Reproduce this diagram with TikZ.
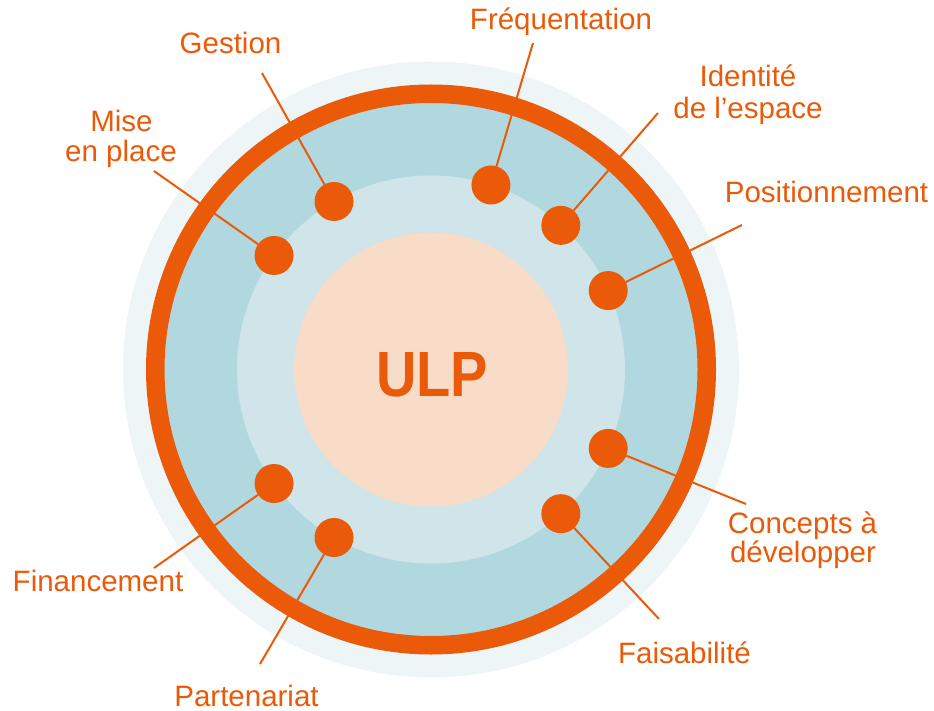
\documentclass[tikz,border=0pt]{standalone}
\usepackage{fontspec}
\setmainfont{Liberation Sans}
\definecolor{ulporange}{HTML}{EA5A08}
\definecolor{ringblue}{HTML}{B1D8DF}
\definecolor{innerblue}{HTML}{CFE5EA}
\definecolor{haloblue}{HTML}{EDF5F7}
\definecolor{corepeach}{HTML}{F8DCC8}
\begin{document}
\begin{tikzpicture}[x=1pt,y=-1pt,
  lbl/.style={text=ulporange, font=\fontsize{29.5}{35}\selectfont, anchor=base, inner sep=0pt},
  spoke/.style={draw=ulporange, line width=2pt},
  dot/.style={circle, fill=ulporange, minimum size=39pt, inner sep=0pt, outer sep=0pt}]
\useasboundingbox (0,0) rectangle (934,711);
\coordinate (c) at (431,369.5);

% concentric discs
\fill[haloblue] (c) circle (308pt);
\fill[ringblue] (c) circle (267pt);
\fill[innerblue] (c) circle (194pt);
\fill[corepeach] (c) circle (137pt);
\draw[ulporange, line width=18.5pt] (c) circle (275.75pt);

% core label
\node[text=ulporange, font=\bfseries\fontsize{64}{64}\selectfont, anchor=base, inner sep=0pt]
  (ulp) at (432,396.7) {\scalebox{0.875}[1]{ULP}};

% dots on the inner ring
\node[dot] (dfreq) at ([shift={(72:194pt)}]c) {};
\node[dot] (dident) at ([shift={(48:194pt)}]c) {};
\node[dot] (dpos) at ([shift={(24:194pt)}]c) {};
\node[dot] (dconc) at ([shift={(-24:194pt)}]c) {};
\node[dot] (dfais) at ([shift={(-48:194pt)}]c) {};
\node[dot] (dpart) at ([shift={(-120:194pt)}]c) {};
\node[dot] (dfin) at ([shift={(-144:194pt)}]c) {};
\node[dot] (dmise) at ([shift={(144:194pt)}]c) {};
\node[dot] (dges) at ([shift={(120:194pt)}]c) {};

% outer ends of the spokes
\coordinate (efreq) at (533,43);
\coordinate (eident) at (658,113);
\coordinate (epos) at (742,225);
\coordinate (econc) at (746,504);
\coordinate (efais) at (659,619);
\coordinate (epart) at (260,664);
\coordinate (efin) at (154,568);
\coordinate (emise) at (154,171);
\coordinate (eges) at (262,73);

% spokes from each dot outwards
\foreach \d/\e in {dfreq/efreq, dident/eident, dpos/epos, dconc/econc, dfais/efais,
                   dpart/epart, dfin/efin, dmise/emise, dges/eges}
  \draw[spoke] (\d) -- (\e);

% labels
\node[lbl] (tfreq) at (561,30) {Fréquentation};
\node[lbl] (tident1) at (748,87) {Identité};
\node[lbl] (tident2) at (748,119) {de l’espace};
\node[lbl] (tpos) at (826.5,203) {Positionnement};
\node[lbl] (tconc1) at (802.5,533) {Concepts à};
\node[lbl] (tconc2) at (803,562) {développer};
\node[lbl] (tfais) at (684.5,663) {Faisabilité};
\node[lbl] (tpart) at (246.5,706) {Partenariat};
\node[lbl] (tfin) at (98,591) {Financement};
\node[lbl] (tmise1) at (121.5,132) {Mise};
\node[lbl] (tmise2) at (121,162) {en place};
\node[lbl] (tges) at (230.5,54) {Gestion};
\end{tikzpicture}
\end{document}
